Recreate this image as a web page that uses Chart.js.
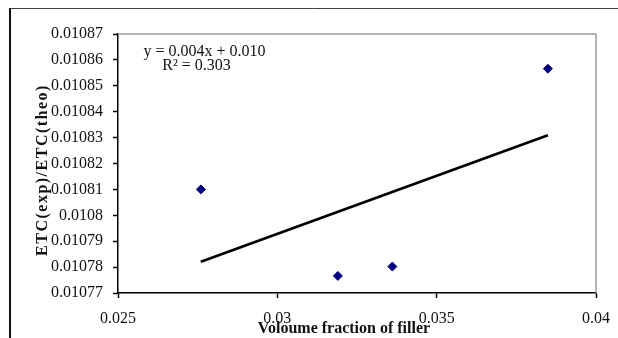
<!DOCTYPE html>
<html>
<head>
<meta charset="utf-8">
<script src="https://cdn.jsdelivr.net/npm/chart.js@4.4.1/dist/chart.umd.min.js"></script>
<style>
  html, body { margin: 0; padding: 0; background: #fff; }
  canvas { display: block; }
</style>
</head>
<body>
<canvas id="c" width="618" height="338"></canvas>
<script>
// Measured samples: volume fraction of filler vs ETC(exp)/ETC(theo)
const fillerFraction = [0.02760, 0.03190, 0.03361, 0.03849];
const etcRatio = [0.010810, 0.0107766, 0.0107802, 0.0108566];

// Axis tick labels
const xTickLabels = ['0.025', '0.03', '0.035', '0.04'];
const yTickLabels = ['0.01077', '0.01078', '0.01079', '0.0108', '0.01081', '0.01082',
                     '0.01083', '0.01084', '0.01085', '0.01086', '0.01087'];

const equationText = 'y = 0.004x + 0.010';
const rSquaredText = 'R\u00b2 = 0.303';
const xTitle = 'Voloume fraction of filler';
const yTitle = 'ETC(exp)/ETC(theo)';

// Least-squares linear trend through the measured points
function linearFit(xs, ys) {
  const n = xs.length;
  const mx = xs.reduce((a, b) => a + b, 0) / n;
  const my = ys.reduce((a, b) => a + b, 0) / n;
  let sxy = 0, sxx = 0;
  for (let i = 0; i < n; i++) {
    sxy += (xs[i] - mx) * (ys[i] - my);
    sxx += (xs[i] - mx) * (xs[i] - mx);
  }
  const slope = sxy / sxx;
  return { slope, intercept: my - slope * mx };
}
const fit = linearFit(fillerFraction, etcRatio);
const xLo = Math.min(...fillerFraction);
const xHi = Math.max(...fillerFraction);
const trendPoints = [
  { x: xLo, y: fit.intercept + fit.slope * xLo },
  { x: xHi, y: fit.intercept + fit.slope * xHi }
];

const serif = '"Liberation Serif", "Times New Roman", serif';

// Frame, plot-box border, trend equation and axis titles
const decorations = {
  id: 'decorations',
  beforeDatasetsDraw(chart) {
    const { ctx, chartArea: a } = chart;
    ctx.save();
    ctx.strokeStyle = '#9a9a9a';
    ctx.lineWidth = 1.5;
    ctx.beginPath();
    ctx.moveTo(a.left, a.top);
    ctx.lineTo(a.right, a.top);
    ctx.lineTo(a.right, a.bottom);
    ctx.stroke();
    ctx.restore();
  },
  afterDraw(chart) {
    const { ctx } = chart;
    ctx.save();
    // outer frame
    ctx.strokeStyle = '#444';
    ctx.lineWidth = 1;
    ctx.beginPath();
    ctx.moveTo(9, 8.5);
    ctx.lineTo(618, 8.5);
    ctx.stroke();
    ctx.strokeStyle = '#111';
    ctx.lineWidth = 2;
    ctx.beginPath();
    ctx.moveTo(10, 8);
    ctx.lineTo(10, 338);
    ctx.stroke();

    // trend equation
    ctx.fillStyle = '#111';
    ctx.textAlign = 'center';
    ctx.textBaseline = 'alphabetic';
    ctx.font = '16px ' + serif;
    ctx.fillText(equationText, 204.5, 56);
    ctx.fillText(rSquaredText, 196.5, 70);

    // axis titles
    ctx.font = 'bold 16px ' + serif;
    ctx.fillText(xTitle, 344, 333);
    ctx.translate(47, 170);
    ctx.rotate(-Math.PI / 2);
    ctx.letterSpacing = '1.5px';
    ctx.fillText(yTitle, 0, 0);
    ctx.restore();
  }
};

new Chart(document.getElementById('c'), {
  type: 'scatter',
  data: {
    datasets: [
      {
        data: fillerFraction.map((x, i) => ({ x, y: etcRatio[i] })),
        pointStyle: 'rectRot',
        pointRadius: 4.5,
        backgroundColor: '#000080',
        borderColor: '#000080',
        borderWidth: 1
      },
      {
        type: 'line',
        data: trendPoints,
        showLine: true,
        borderColor: '#000',
        borderWidth: 2.75,
        pointRadius: 0,
        fill: false
      }
    ]
  },
  options: {
    responsive: false,
    animation: false,
    devicePixelRatio: 1,
    layout: { padding: { left: 0, top: 34, right: 22, bottom: 0 } },
    plugins: { legend: { display: false }, tooltip: { enabled: false } },
    scales: {
      x: {
        type: 'linear',
        min: Number(xTickLabels[0]),
        max: Number(xTickLabels[xTickLabels.length - 1]),
        afterBuildTicks(scale) {
          scale.ticks = xTickLabels.map(v => ({ value: Number(v) }));
        },
        afterFit(scale) {
          scale.height = 45;
          scale.paddingLeft = 0;
          scale.paddingRight = 0;
        },
        grid: { drawOnChartArea: false, drawTicks: true, tickLength: 5, tickColor: '#000', tickWidth: 1.5 },
        border: { display: true, color: '#000', width: 1.5 },
        ticks: {
          padding: 11,
          color: '#111',
          font: { family: serif, size: 16 },
          maxRotation: 0,
          autoSkip: false,
          callback: (v, i) => xTickLabels[i]
        }
      },
      y: {
        type: 'linear',
        min: Number(yTickLabels[0]),
        max: Number(yTickLabels[yTickLabels.length - 1]),
        afterBuildTicks(scale) {
          scale.ticks = yTickLabels.map(v => ({ value: Number(v) }));
        },
        afterFit(scale) {
          scale.width = 118;
          scale.paddingTop = 0;
          scale.paddingBottom = 0;
        },
        grid: { drawOnChartArea: false, drawTicks: true, tickLength: 5, tickColor: '#000', tickWidth: 1.5 },
        border: { display: true, color: '#000', width: 1.5 },
        ticks: {
          padding: 10,
          color: '#111',
          font: { family: serif, size: 16 },
          autoSkip: false,
          callback: (v, i) => yTickLabels[i]
        }
      }
    }
  },
  plugins: [decorations]
});
</script>
</body>
</html>
